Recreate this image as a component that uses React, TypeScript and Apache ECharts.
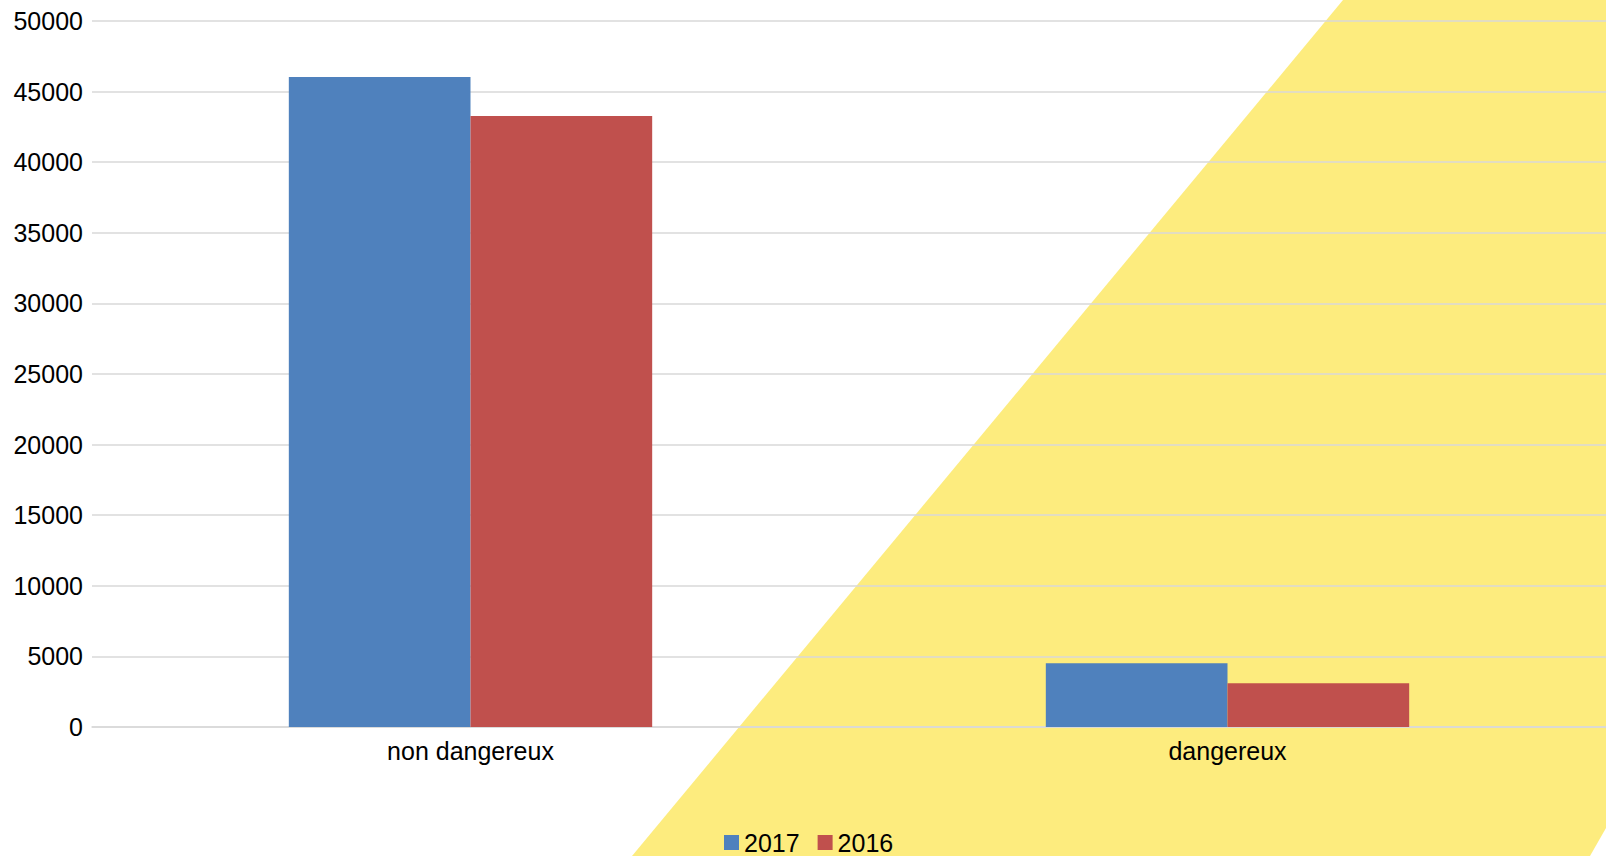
import React, { useEffect, useRef } from "react";
import * as echarts from "echarts";

const categories = ["non dangereux", "dangereux"];
const seriesNames = ["2017", "2016"];
const values2017 = [46030, 4510];
const values2016 = [43270, 3100];
const yTicks = { min: 0, max: 50000, interval: 5000 };

const FONT = "'Liberation Sans', Arial, Helvetica, sans-serif";

export default function App() {
  const ref = useRef<HTMLDivElement>(null);
  useEffect(() => {
    if (!ref.current) return;
    const chart = echarts.init(ref.current, undefined, { renderer: "svg" });
    chart.setOption({
      animation: false,
      backgroundColor: "#ffffff",
      textStyle: { fontFamily: FONT },
      graphic: [
        {
          type: "polygon",
          z: -100,
          silent: true,
          shape: {
            points: [
              [1343, 0],
              [1606, 0],
              [1606, 828],
              [1590, 856],
              [632, 856],
            ],
          },
          style: { fill: "#fdec7e" },
        },
      ],
      grid: { left: 92, right: 0, top: 21, bottom: 129, containLabel: false },
      legend: {
        left: 719,
        top: 825,
        itemWidth: 15,
        itemHeight: 15,
        itemGap: 18,
        icon: "rect",
        textStyle: { fontSize: 25, color: "#000", fontFamily: FONT },
        data: seriesNames,
      },
      xAxis: {
        type: "category",
        data: categories,
        axisLine: { show: true, lineStyle: { color: "#d9d9d9", width: 1.5 } },
        axisTick: { show: false },
        axisLabel: { fontSize: 25, color: "#000", margin: 11, fontFamily: FONT },
        z: 1,
      },
      yAxis: {
        type: "value",
        min: yTicks.min,
        max: yTicks.max,
        interval: yTicks.interval,
        axisLine: { show: false },
        axisTick: { show: false },
        axisLabel: {
          fontSize: 25,
          color: "#000",
          margin: 9,
          fontFamily: FONT,
          formatter: (v: number) => String(v),
        },
        splitLine: { lineStyle: { color: "#d9d9d9", width: 1.5 } },
        z: 1,
      },
      series: [
        {
          name: seriesNames[0],
          type: "bar",
          data: values2017,
          barGap: "0%",
          barCategoryGap: "52%",
          itemStyle: { color: "#4f81bd" },
          z: 2,
        },
        {
          name: seriesNames[1],
          type: "bar",
          data: values2016,
          barGap: "0%",
          barCategoryGap: "52%",
          itemStyle: { color: "#c0504d" },
          z: 2,
        },
      ],
    });
    return () => chart.dispose();
  }, []);
  return (
    <div
      ref={ref}
      style={{ position: "absolute", left: 0, top: 0, width: 1606, height: 856 }}
    />
  );
}
